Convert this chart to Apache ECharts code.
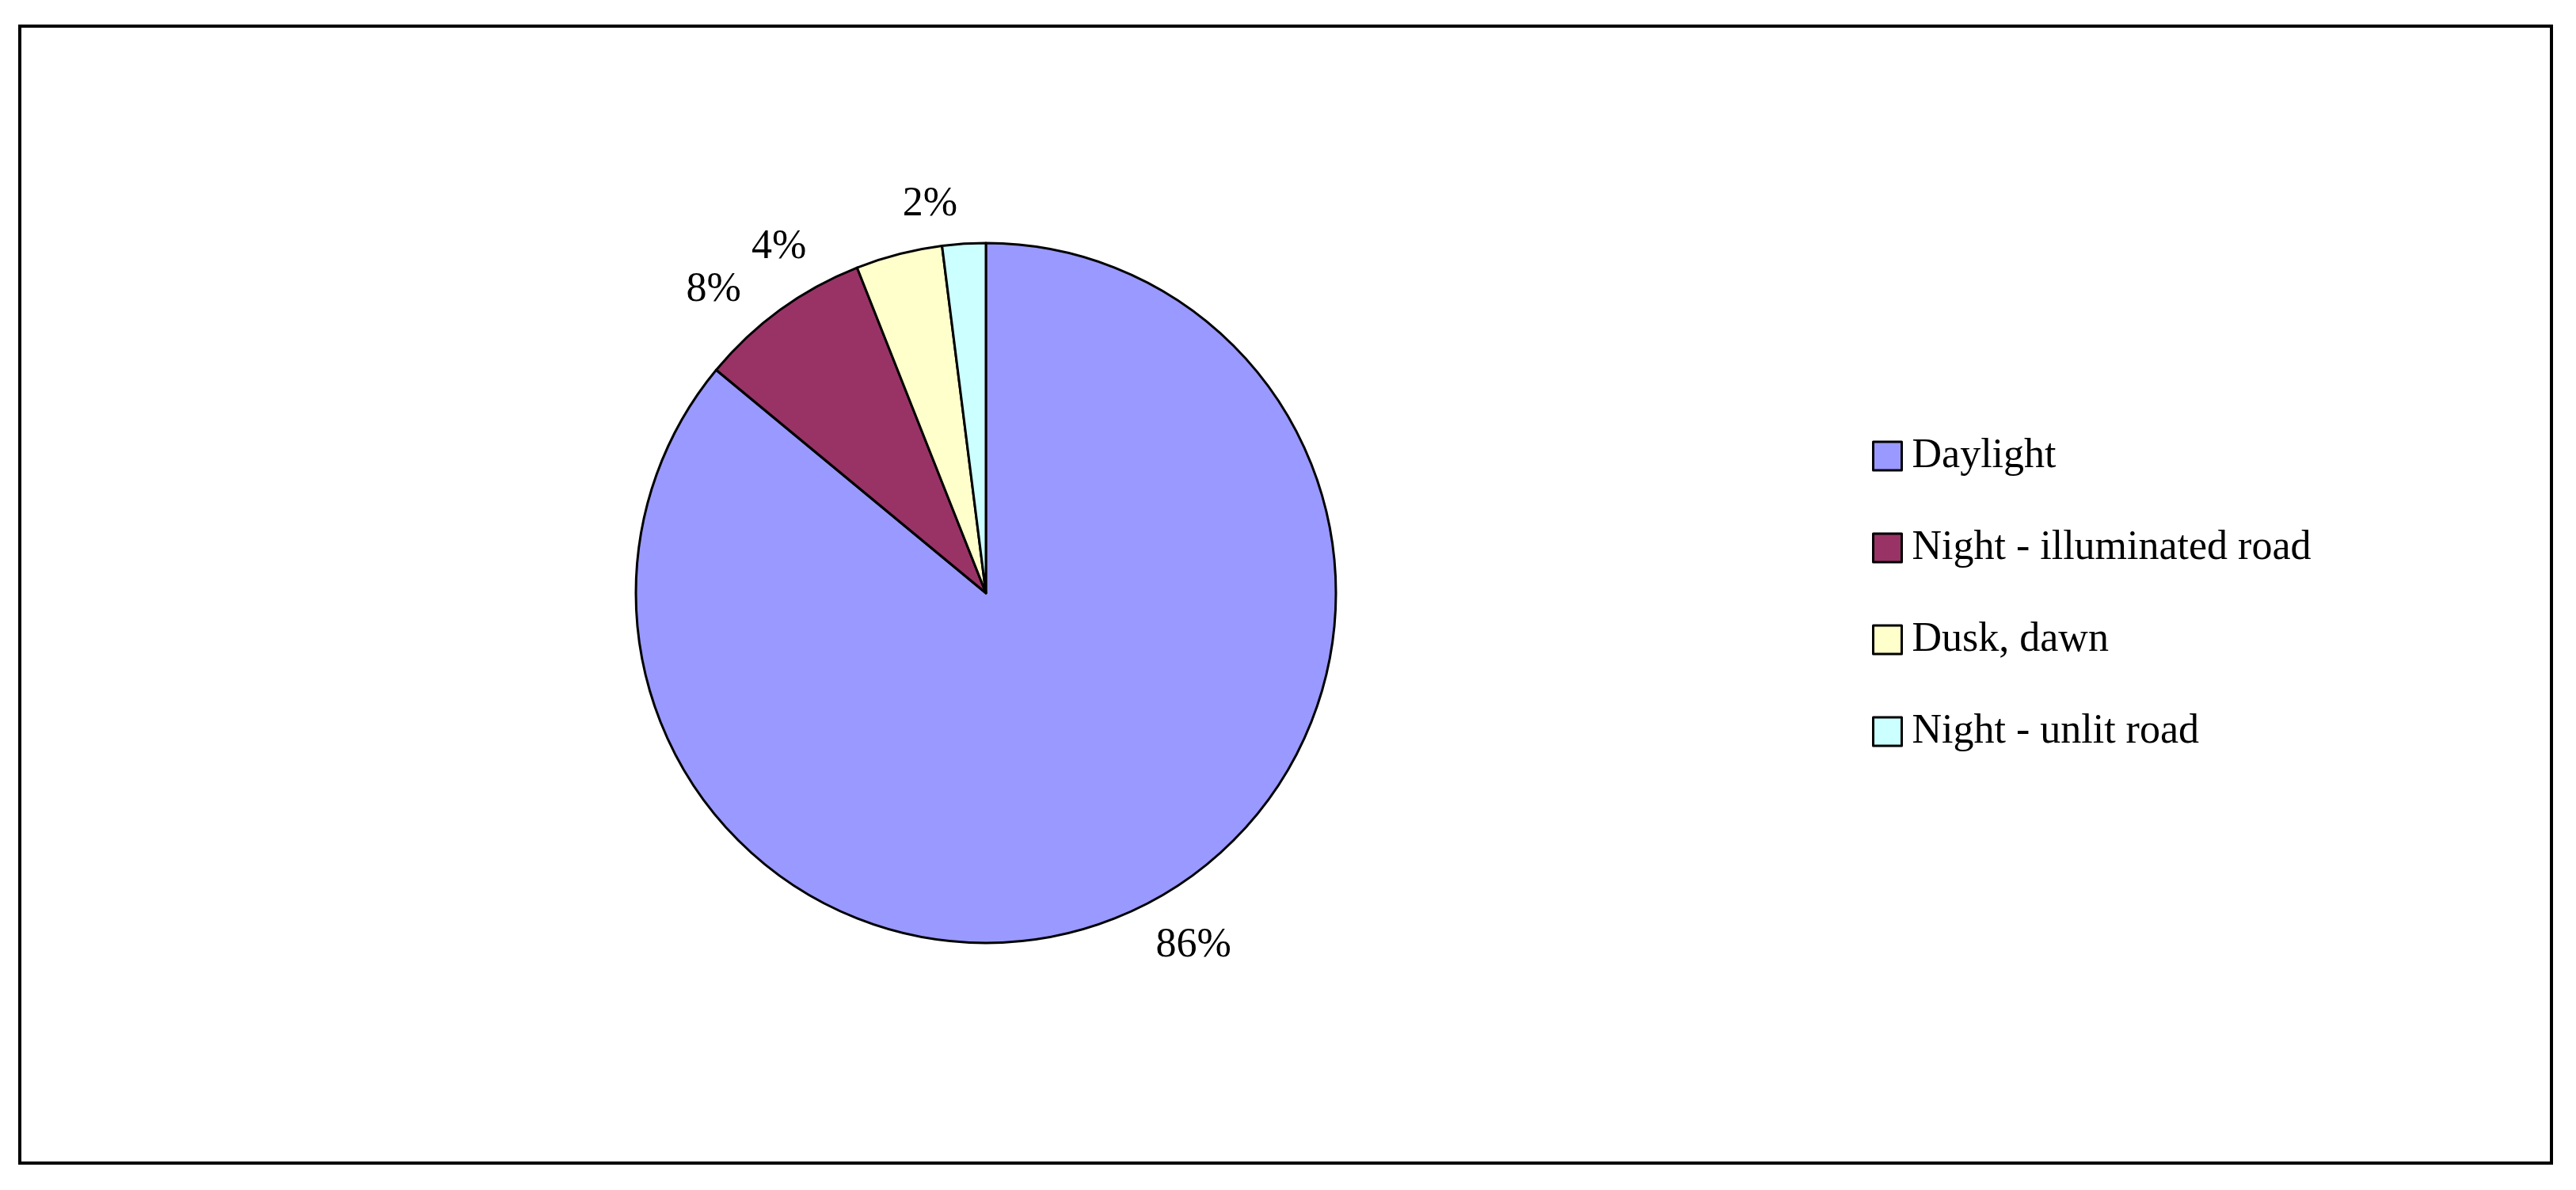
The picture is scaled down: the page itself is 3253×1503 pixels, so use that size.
<!DOCTYPE html>
<html><head><meta charset="utf-8">
<script src="https://cdn.jsdelivr.net/npm/echarts@6/dist/echarts.min.js"></script>
<style>html,body{margin:0;padding:0;background:#fff}#c{width:3253px;height:1503px}</style>
</head><body><div id="c"></div>
<script>
const categories = ["Daylight", "Night - illuminated road", "Dusk, dawn", "Night - unlit road"];
const values = [86, 8, 4, 2];
const colors = ["#9999FF", "#993366", "#FFFFCC", "#CCFFFF"];
const chart = echarts.init(document.getElementById('c'));
chart.setOption({
  animation: false,
  textStyle: { fontFamily: "Liberation Serif" },
  graphic: [{ type: 'rect', shape: { x: 25, y: 33, width: 3197, height: 1436 },
    style: { fill: 'none', stroke: '#000', lineWidth: 4 }, silent: true }],
  legend: {
    orient: 'vertical', left: 2359, top: 545, itemWidth: 36, itemHeight: 36, itemGap: 64,
    icon: 'rect', textStyle: { fontSize: 52, color: '#000', fontFamily: "Liberation Serif", padding: [0,0,0,8] },
    itemStyle: { borderColor: '#000', borderWidth: 3 },
    data: categories
  },
  series: [{
    type: 'pie', center: [1245, 749], radius: 442, startAngle: 90, clockwise: true,
    itemStyle: { borderColor: '#000', borderWidth: 3 },
    label: { show: true, position: 'outside', formatter: p => p.value + '%',
      fontSize: 52, color: '#000', fontFamily: "Liberation Serif" },
    labelLine: { show: false, length: 50, length2: 0 },
    emphasis: { disabled: true },
    data: categories.map((n, i) => ({ name: n, value: values[i], itemStyle: { color: colors[i] } }))
  }]
});
</script></body></html>
